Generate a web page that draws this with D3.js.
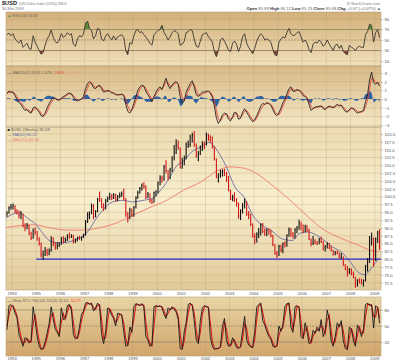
<!DOCTYPE html>
<html>
<head>
<meta charset="utf-8">
<script src="https://cdn.jsdelivr.net/npm/d3@7"></script>
<style>
  body { margin: 0; background: #fff; }
  svg text { font-family: "Liberation Sans", Arial, sans-serif; }
</style>
</head>
<body>
<div id="chart"></div>
<script>
// monthly bars, Oct 1993 .. Mar 2009
const closes = [
  94.6, 96.4, 96.6,
  97.0, 95.5, 95.3, 94.0, 94.5, 90.7, 90.3, 90.8, 88.3, 86.9, 89.2, 88.7,
  86.6, 85.0, 81.5, 81.6, 82.6, 82.1, 82.7, 86.6, 85.0, 83.9, 84.4, 84.8,
  86.8, 85.7, 86.2, 87.3, 87.2, 87.5, 85.5, 85.9, 86.8, 86.7, 86.9, 87.7,
  92.1, 94.1, 94.5, 96.9, 93.5, 95.3, 99.2, 98.9, 96.8, 96.6, 98.7, 99.6,
  100.0, 99.6, 100.6, 99.0, 100.1, 100.3, 100.9, 99.3, 94.3, 93.1, 95.8, 94.2,
  96.6, 99.6, 101.3, 102.6, 103.6, 103.2, 99.8, 100.8, 98.6, 98.1, 101.2, 101.6,
  104.4, 106.1, 105.6, 109.5, 108.4, 106.2, 108.6, 112.4, 114.2, 116.4, 115.8, 109.6,
  110.6, 112.3, 116.7, 116.7, 119.3, 119.5, 116.5, 113.0, 113.7, 115.5, 116.9, 116.7,
  119.7, 119.2, 118.8, 116.0, 112.0, 106.4, 106.8, 107.9, 108.0, 107.5, 106.6, 102.0,
  99.3, 99.6, 99.0, 98.0, 94.0, 95.4, 97.2, 98.2, 94.5, 94.1, 91.2, 87.4,
  87.3, 87.9, 88.6, 90.9, 88.9, 88.3, 89.3, 88.9, 87.5, 84.6, 81.8, 81.6,
  84.1, 83.0, 84.9, 84.8, 87.6, 89.3, 88.1, 87.5, 89.5, 89.8, 91.3, 90.8,
  89.0, 90.2, 89.3, 86.4, 85.0, 85.4, 85.2, 85.0, 86.2, 85.6, 83.2, 83.7,
  84.9, 83.6, 82.9, 81.6, 82.2, 82.1, 80.6, 80.9, 78.1, 76.8, 75.9, 76.7,
  75.3, 74.3, 71.9, 73.2, 72.8, 72.5, 73.1, 77.8, 79.1, 85.6, 86.5, 81.3,
  86.5, 88.3, 85.7
];
const highs = [
  95.4, 96.9, 97.6,
  97.8, 97.2, 96.0, 95.6, 95.4, 94.6, 91.5, 91.6, 91.0, 88.8, 89.8, 90.1,
  89.0, 87.0, 85.3, 82.8, 83.9, 83.3, 83.4, 87.3, 87.0, 85.5, 85.4, 85.4,
  87.1, 87.3, 86.9, 88.0, 88.5, 88.0, 87.8, 86.6, 87.2, 87.5, 87.3, 88.2,
  92.5, 95.0, 95.3, 97.8, 97.6, 95.7, 99.6, 101.6, 99.5, 97.9, 99.3, 100.0,
  101.2, 100.8, 101.1, 100.9, 100.5, 101.3, 101.6, 102.6, 99.5, 95.2, 96.4, 96.2,
  97.0, 100.1, 101.9, 103.1, 104.2, 104.6, 103.6, 101.5, 101.1, 99.2, 101.6, 102.0,
  104.8, 106.8, 106.7, 110.1, 111.6, 108.5, 109.2, 112.9, 116.5, 118.3, 117.9, 115.7,
  112.4, 113.1, 117.3, 117.9, 119.8, 120.4, 121.0, 117.0, 114.6, 116.3, 117.7, 117.6,
  120.5, 120.1, 119.6, 119.2, 116.2, 112.2, 107.5, 108.6, 108.7, 108.9, 107.9, 106.6,
  102.2, 100.6, 101.4, 99.5, 98.1, 96.0, 98.0, 99.4, 98.6, 95.4, 94.6, 91.4,
  88.3, 88.6, 90.0, 91.5, 91.6, 89.9, 89.8, 89.9, 89.4, 87.8, 84.8, 82.6,
  84.6, 84.6, 85.3, 85.7, 88.0, 90.1, 90.0, 88.7, 89.9, 90.6, 92.6, 92.0,
  91.1, 91.0, 90.9, 89.7, 86.6, 87.4, 86.4, 85.8, 86.8, 87.2, 85.9, 84.5,
  85.4, 85.2, 84.2, 83.0, 82.6, 82.8, 82.2, 82.0, 80.9, 78.5, 77.8, 77.2,
  77.0, 76.1, 74.4, 73.6, 73.9, 73.8, 73.5, 78.2, 80.4, 87.4, 88.5, 86.9,
  86.9, 89.1, 89.6
];
const lows = [
  93.6, 94.5, 95.8,
  95.9, 94.8, 94.3, 93.1, 92.8, 90.2, 88.9, 89.6, 87.7, 86.1, 86.5, 87.8,
  85.9, 84.4, 80.6, 79.8, 81.0, 81.1, 81.3, 82.4, 84.2, 83.0, 83.2, 83.9,
  84.6, 85.1, 85.3, 85.8, 86.5, 86.8, 85.0, 85.2, 85.7, 86.2, 85.9, 86.8,
  87.5, 91.6, 92.8, 94.4, 92.8, 93.4, 95.0, 98.3, 96.3, 95.4, 95.9, 98.2,
  98.9, 98.8, 99.2, 98.4, 98.5, 99.5, 99.9, 98.8, 93.6, 91.7, 92.8, 93.5,
  93.6, 96.2, 99.3, 100.9, 101.9, 102.4, 99.2, 99.5, 98.0, 97.6, 98.0, 100.1,
  101.1, 103.6, 104.4, 105.1, 107.5, 105.2, 105.6, 107.9, 111.5, 113.6, 115.0, 109.0,
  108.9, 110.0, 111.9, 115.5, 115.9, 117.3, 115.9, 112.4, 111.3, 113.3, 114.6, 115.2,
  116.3, 117.8, 117.2, 115.4, 111.5, 105.9, 104.5, 106.0, 106.4, 106.6, 104.7, 101.7,
  98.9, 98.5, 98.3, 96.8, 92.9, 92.5, 94.6, 96.2, 93.8, 92.8, 90.5, 86.9,
  84.8, 85.3, 86.8, 87.6, 88.3, 87.4, 87.3, 87.8, 87.0, 84.2, 81.4, 80.4,
  81.0, 82.2, 81.9, 83.7, 84.0, 87.2, 87.2, 86.6, 86.5, 88.3, 89.4, 89.2,
  88.3, 88.6, 88.7, 86.1, 84.1, 84.5, 84.8, 84.5, 84.8, 85.2, 82.9, 82.5,
  83.4, 83.2, 82.5, 81.2, 81.3, 81.6, 80.2, 80.1, 77.9, 76.5, 74.5, 75.3,
  74.9, 73.9, 70.9, 71.3, 72.2, 71.9, 71.3, 72.9, 76.1, 78.9, 84.4, 77.7,
  79.4, 85.2, 83.0
];

// moving averages, read at a few dates
const ma50Dates = ["1993-10","1994-04","1994-10","1995-01","1995-04","1995-08","1996-01","1996-08","1997-02","1997-08",
  "1998-03","1998-08","1999-01","1999-06","1999-11","2000-02","2000-06","2000-11","2001-02","2001-06","2001-11",
  "2002-03","2002-06","2002-11","2003-04","2003-08","2004-01","2004-05","2004-10","2005-03","2005-08","2005-12",
  "2006-04","2006-08","2007-01","2007-04","2007-09","2008-01","2008-05","2008-08","2008-11","2009-01","2009-03"];
const ma50 = [93.2, 94.8, 92.5, 91.0, 88.5, 85.8, 85.2, 86.1, 88.4, 94.1,
  98.3, 98.8, 98.3, 98.8, 99.5, 101.5, 104.8, 110.0, 111.3, 114.2, 116.0,
  117.3, 115.5, 110.0, 102.7, 100.0, 93.5, 91.0, 89.0, 86.5, 86.0, 88.3,
  88.7, 87.7, 85.5, 84.0, 82.0, 79.0, 75.8, 75.0, 76.8, 78.5, 80.2];
const ma200Dates = ["1993-10","1994-12","1995-08","1996-04","1997-01","1997-08","1998-05","1999-01","1999-09","2000-06",
  "2001-02","2001-11","2002-07","2003-01","2003-08","2004-02","2004-10","2005-07","2006-03","2006-12",
  "2007-08","2008-02","2008-05","2008-10","2009-03"];
const ma200 = [90.1, 91.0, 90.0, 89.3, 89.3, 90.0, 91.6, 94.1, 96.4, 98.9,
  102.0, 104.8, 108.3, 109.5, 109.1, 107.5, 103.7, 98.9, 94.1, 89.3,
  86.8, 85.2, 84.5, 83.0, 82.4];
const supportLevel = 80;
const supportFrom = "1995-01";

const rsi = [
  60, 63, 58,
  62, 52, 48, 44, 50, 36, 40, 44, 34, 32, 58, 46,
  38, 30, 23, 26, 40, 52, 58, 69, 55, 47, 44, 50,
  62, 55, 58, 64, 60, 62, 42, 38, 52, 58, 56, 62,
  82, 86, 72, 68, 52, 58, 72, 70, 52, 48, 58, 62,
  55, 50, 58, 50, 56, 58, 60, 55, 30, 22, 45, 42,
  58, 68, 70, 64, 66, 60, 56, 50, 44, 40, 60, 64,
  68, 70, 78, 64, 58, 50, 56, 64, 68, 66, 62, 40,
  42, 48, 64, 66, 70, 68, 52, 38, 36, 48, 60, 62,
  64, 56, 52, 46, 28, 18, 30, 50, 54, 48, 40, 30,
  28, 44, 48, 42, 28, 38, 56, 62, 44, 36, 30, 24,
  34, 48, 56, 62, 58, 50, 52, 50, 46, 32, 22, 20,
  46, 52, 56, 54, 64, 72, 62, 58, 60, 64, 66, 56,
  46, 50, 44, 32, 26, 42, 46, 44, 50, 46, 38, 42,
  50, 42, 36, 30, 40, 42, 34, 40, 28, 24, 22, 40,
  36, 34, 30, 36, 38, 36, 36, 60, 66, 80, 78, 46,
  64, 70, 54
];

const macd = [
  0.7, 0.9, 0.8,
  0.8, 0.4, 0.0, -0.4, -0.6, -1.0, -1.3, -1.2, -1.5, -1.6, -1.0, -0.9,
  -1.2, -1.5, -1.9, -2.0, -1.6, -1.0, -0.5, -0.1, 0.2, 0.1, -0.1, -0.1,
  0.1, 0.3, 0.4, 0.6, 0.7, 0.6, 0.2, -0.1, -0.2, -0.1, 0.0, 0.3,
  1.2, 1.8, 2.0, 1.8, 1.3, 1.2, 1.5, 1.6, 1.2, 0.8, 0.9, 1.0,
  0.9, 0.7, 0.7, 0.5, 0.5, 0.5, 0.6, 0.4, -0.6, -1.4, -1.6, -1.2,
  -0.5, 0.3, 1.0, 1.4, 1.6, 1.5, 0.9, 0.5, 0.1, -0.3, 0.3, 0.8,
  1.2, 1.4, 1.1, 1.8, 2.4, 1.6, 1.2, 1.6, 1.9, 2.0, 1.7, 0.3,
  -0.5, -0.2, 0.8, 1.3, 1.8, 2.1, 1.4, 0.5, 0.3, 0.6, 0.8, 0.8,
  0.9, 0.9, 0.7, 0.2, -0.8, -2.2, -2.8, -2.4, -1.8, -1.6, -1.7, -2.3,
  -2.5, -2.0, -1.5, -1.6, -2.3, -2.2, -1.5, -1.1, -1.5, -1.9, -2.3, -2.6,
  -2.4, -1.9, -1.4, -0.8, -0.5, -0.6, -0.4, -0.5, -0.7, -1.2, -1.7, -1.9,
  -1.6, -1.0, -0.4, 0.0, 0.6, 1.2, 1.4, 0.9, 0.9, 1.1, 1.0, 0.8,
  0.4, 0.3, 0.1, -0.6, -1.3, -1.1, -0.9, -0.9, -0.8, -0.8, -1.1, -1.2,
  -0.9, -0.8, -0.9, -1.0, -0.8, -0.6, -0.8, -0.7, -1.1, -1.4, -1.5, -1.2,
  -1.0, -1.1, -1.4, -1.6, -1.5, -1.4, -1.3, -0.3, 0.5, 2.2, 3.1, 1.9,
  1.7, 1.9, 1.48
];
const signal = [
  0.6, 0.8, 0.8,
  0.8, 0.6, 0.3, -0.1, -0.4, -0.7, -1.0, -1.2, -1.3, -1.5, -1.3, -1.1,
  -1.1, -1.3, -1.6, -1.9, -1.8, -1.4, -0.9, -0.4, -0.1, 0.1, 0.0, -0.1,
  0.0, 0.2, 0.3, 0.5, 0.6, 0.6, 0.4, 0.1, -0.1, -0.1, 0.0, 0.1,
  0.7, 1.3, 1.8, 1.9, 1.6, 1.3, 1.4, 1.5, 1.4, 1.0, 0.9, 0.9,
  0.9, 0.8, 0.7, 0.6, 0.5, 0.5, 0.5, 0.5, 0.0, -0.8, -1.3, -1.3,
  -0.9, -0.2, 0.5, 1.1, 1.4, 1.5, 1.2, 0.8, 0.4, 0.0, 0.1, 0.5,
  0.9, 1.2, 1.2, 1.5, 2.0, 1.9, 1.5, 1.5, 1.7, 1.9, 1.8, 1.1,
  0.2, -0.2, 0.3, 0.9, 1.4, 1.8, 1.7, 1.0, 0.5, 0.4, 0.6, 0.7,
  0.8, 0.9, 0.8, 0.5, -0.2, -1.3, -2.3, -2.5, -2.1, -1.8, -1.7, -2.0,
  -2.3, -2.2, -1.8, -1.6, -1.9, -2.1, -1.8, -1.4, -1.3, -1.6, -2.0, -2.4,
  -2.5, -2.2, -1.7, -1.2, -0.8, -0.6, -0.5, -0.5, -0.6, -0.9, -1.4, -1.7,
  -1.8, -1.4, -0.8, -0.3, 0.2, 0.8, 1.2, 1.1, 1.0, 1.0, 1.0, 0.9,
  0.6, 0.4, 0.2, -0.2, -0.8, -1.1, -1.0, -0.9, -0.9, -0.8, -0.9, -1.1,
  -1.0, -0.9, -0.9, -0.9, -0.9, -0.7, -0.7, -0.7, -0.9, -1.2, -1.4, -1.3,
  -1.1, -1.1, -1.2, -1.4, -1.5, -1.5, -1.4, -0.9, -0.1, 1.2, 2.4, 2.3,
  1.9, 1.9, 1.8
];

const stochK = [
  43, 88, 90,
  86, 74, 66, 34, 24, 12, 28, 26, 18, 22, 86, 60,
  30, 12, 6, 8, 20, 37, 55, 86, 62, 44, 38, 30,
  84, 62, 64, 88, 90, 80, 34, 26, 28, 48, 72, 78,
  93, 94, 90, 93, 78, 84, 93, 88, 34, 17, 40, 84,
  80, 70, 64, 50, 74, 72, 70, 40, 12, 14, 48, 38,
  86, 92, 90, 88, 92, 86, 30, 24, 12, 14, 86, 88,
  86, 88, 84, 72, 64, 84, 80, 86, 82, 76, 62, 8,
  6, 40, 56, 90, 93, 88, 60, 24, 17, 60, 84, 88,
  86, 84, 30, 12, 6, 8, 8, 12, 50, 64, 22, 12,
  14, 28, 20, 10, 8, 12, 40, 68, 24, 14, 11, 10,
  40, 86, 90, 93, 60, 52, 40, 30, 26, 12, 10, 14,
  50, 40, 52, 86, 92, 93, 48, 38, 86, 88, 84, 30,
  26, 56, 40, 17, 20, 42, 36, 48, 40, 62, 30, 42,
  80, 60, 22, 12, 30, 56, 48, 60, 22, 8, 6, 48,
  44, 22, 12, 52, 44, 30, 44, 90, 93, 88, 90, 46,
  88, 84, 55.6
];
const stochD = [
  50, 70, 86,
  88, 80, 70, 50, 30, 18, 20, 26, 22, 20, 54, 72,
  45, 21, 9, 7, 14, 28, 46, 70, 74, 53, 41, 34,
  57, 73, 63, 76, 89, 85, 57, 30, 27, 38, 60, 75,
  86, 93, 92, 91, 85, 81, 88, 90, 61, 26, 28, 62,
  82, 75, 67, 57, 62, 73, 71, 55, 26, 13, 31, 43,
  62, 89, 91, 89, 90, 89, 58, 27, 18, 13, 50, 87,
  87, 87, 86, 78, 68, 74, 82, 83, 84, 79, 69, 35,
  7, 23, 48, 73, 91, 90, 74, 42, 20, 38, 72, 86,
  87, 85, 57, 21, 9, 7, 8, 10, 31, 57, 43, 17,
  13, 21, 24, 15, 9, 10, 26, 54, 46, 19, 12, 10,
  25, 63, 88, 91, 76, 56, 46, 35, 28, 19, 11, 12,
  32, 45, 46, 69, 89, 92, 70, 43, 62, 87, 86, 57,
  28, 41, 48, 28, 18, 31, 39, 42, 44, 51, 46, 36,
  61, 70, 41, 17, 21, 43, 52, 54, 41, 15, 7, 27,
  46, 33, 17, 32, 48, 37, 37, 67, 91, 90, 89, 68,
  67, 86, 64.3
];

const years = d3.range(1994, 2010);
const priceTicks = d3.range(72.5, 120.01, 2.5);
const macdTicks = [-3, -2, -1, 0, 1, 2, 3];
const rsiTicks = [10, 30, 50, 70, 90];
const stochTicks = [20, 50, 80];

// ---------------------------------------------------------------
const W = 400, H = 362;
const L = 6, R = 381;
const svg = d3.select("#chart").append("svg").attr("width", W).attr("height", H);
const defs = svg.append("defs");

const parse = d3.timeParse("%Y-%m");
const months = closes.map((c, i) => new Date(1993, 9 + i, 15));
const x = d3.scaleTime().domain([new Date(1993, 9, 1), new Date(2009, 3, 6)]).range([L, R]);

const panels = {
  rsi:   { top: 12,  bottom: 66,  stops: [["0%", "#d3b07a"], ["100%", "#f0e0bb"]] },
  macd:  { top: 66,  bottom: 127, stops: [["0%", "#d8ba87"], ["100%", "#f4e8c6"]] },
  price: { top: 127, bottom: 290, stops: [["0%", "#eddcb2"], ["45%", "#f8efcf"], ["100%", "#e2c998"]] },
  stoch: { top: 297, bottom: 356, stops: [["0%", "#e9d5a6"], ["100%", "#d1a56b"]] }
};

const yR = d3.scaleLinear().domain([0, 100]).range([66.25, 13.75]);
const yM = d3.scaleLinear().domain([-3.2, 3.8]).range([127, 66]);
const yP = d3.scaleLinear().domain([70.16, 122.24]).range([290, 127]);
const yS = d3.scaleLinear().domain([0, 100]).range([352.7, 299.3]);

Object.entries(panels).forEach(([k, p]) => {
  const g = defs.append("linearGradient").attr("id", "bg-" + k)
    .attr("x1", 0).attr("y1", 0).attr("x2", 0).attr("y2", 1);
  p.stops.forEach(s => g.append("stop").attr("offset", s[0]).attr("stop-color", s[1]));
  defs.append("clipPath").attr("id", "clip-" + k)
    .append("rect").attr("x", L).attr("y", p.top).attr("width", R - L).attr("height", p.bottom - p.top);
  svg.append("rect").attr("x", L).attr("y", p.top).attr("width", R - L).attr("height", p.bottom - p.top)
    .attr("fill", `url(#bg-${k})`);
  // year grid
  svg.append("g").selectAll("line").data(years).join("line")
    .attr("x1", d => x(new Date(d, 0, 1))).attr("x2", d => x(new Date(d, 0, 1)))
    .attr("y1", p.top).attr("y2", p.bottom)
    .attr("stroke", "#b39a6c").attr("stroke-opacity", 0.45).attr("stroke-width", 0.6);
});

function hgrid(scale, vals, color, opacity, dash) {
  svg.append("g").selectAll("line").data(vals).join("line")
    .attr("x1", L).attr("x2", R).attr("y1", d => scale(d)).attr("y2", d => scale(d))
    .attr("stroke", color).attr("stroke-opacity", opacity).attr("stroke-width", 0.7)
    .attr("stroke-dasharray", dash || null);
}
hgrid(yP, priceTicks, "#b39a6c", 0.4);
hgrid(yM, macdTicks, "#b39a6c", 0.4);
hgrid(yR, [90, 10], "#b39a6c", 0.4);
hgrid(yR, [70, 30], "#8c7c66", 0.9);
hgrid(yR, [50], "#8c7c66", 0.9, "2,1");
hgrid(yS, [80, 20], "#8c7c66", 0.9);
hgrid(yS, [50], "#8c7c66", 0.9, "2,1");

const xi = (d, i) => x(months[i]);

// ---- RSI
const gR = svg.append("g").attr("clip-path", "url(#clip-rsi)");
defs.append("clipPath").attr("id", "rsi-hi").append("rect")
  .attr("x", L).attr("y", 0).attr("width", R - L).attr("height", yR(70));
defs.append("clipPath").attr("id", "rsi-lo").append("rect")
  .attr("x", L).attr("y", yR(30)).attr("width", R - L).attr("height", 100);
gR.append("path").datum(rsi).attr("clip-path", "url(#rsi-hi)")
  .attr("d", d3.area().x(xi).y0(yR(70)).y1(d => yR(d)))
  .attr("fill", "#5d8e35");
gR.append("path").datum(rsi).attr("clip-path", "url(#rsi-lo)")
  .attr("d", d3.area().x(xi).y0(yR(30)).y1(d => yR(d)))
  .attr("fill", "#8a4634");
gR.append("path").datum(rsi)
  .attr("d", d3.line().x(xi).y(d => yR(d)))
  .attr("fill", "none").attr("stroke", "#3a3630").attr("stroke-width", 0.9);

// ---- MACD
const gM = svg.append("g").attr("clip-path", "url(#clip-macd)");
const hist = macd.map((m, i) => m - signal[i]);
gM.append("path").datum(hist)
  .attr("d", d3.area().x(xi).y0(yM(0)).y1(d => yM(d)))
  .attr("fill", "#2f62a3");
gM.append("path").datum(signal)
  .attr("d", d3.line().x(xi).y(d => yM(d)))
  .attr("fill", "none").attr("stroke", "#e8453a").attr("stroke-width", 0.9);
gM.append("path").datum(macd)
  .attr("d", d3.line().x(xi).y(d => yM(d)))
  .attr("fill", "none").attr("stroke", "#222").attr("stroke-width", 0.9);

// ---- Price
const gP = svg.append("g").attr("clip-path", "url(#clip-price)");
gP.append("path").datum(ma200.map((v, i) => [parse(ma200Dates[i]), v]))
  .attr("d", d3.line().x(d => x(d[0])).y(d => yP(d[1])).curve(d3.curveMonotoneX))
  .attr("fill", "none").attr("stroke", "#f07a6a").attr("stroke-width", 0.9);
gP.append("path").datum(ma50.map((v, i) => [parse(ma50Dates[i]), v]))
  .attr("d", d3.line().x(d => x(d[0])).y(d => yP(d[1])).curve(d3.curveMonotoneX))
  .attr("fill", "none").attr("stroke", "#6a6aa6").attr("stroke-width", 0.9);
gP.append("line")
  .attr("x1", x(parse(supportFrom))).attr("x2", R)
  .attr("y1", yP(supportLevel)).attr("y2", yP(supportLevel))
  .attr("stroke", "#2a2ad0").attr("stroke-width", 1.3);

const bars = closes.map((c, i) => ({ date: months[i], o: i ? closes[i - 1] : lows[i], c: c, h: highs[i], l: lows[i] }));
const bar = gP.append("g").selectAll("g").data(bars).join("g")
  .attr("stroke", d => d.c >= d.o ? "#111" : "#d0161a");
bar.append("line")
  .attr("x1", d => x(d.date)).attr("x2", d => x(d.date))
  .attr("y1", d => yP(Math.max(d.h, d.o, d.c))).attr("y2", d => yP(Math.min(d.l, d.o, d.c)))
  .attr("stroke-width", 1.1);
bar.append("line")
  .attr("x1", d => x(d.date)).attr("x2", d => x(d.date) + 0.8)
  .attr("y1", d => yP(d.c)).attr("y2", d => yP(d.c))
  .attr("stroke-width", 0.7);

// ---- Slow stochastic
const gS = svg.append("g").attr("clip-path", "url(#clip-stoch)");
gS.append("path").datum(stochD)
  .attr("d", d3.line().x(xi).y(d => yS(d)))
  .attr("fill", "none").attr("stroke", "#d8201c").attr("stroke-width", 1.1);
gS.append("path").datum(stochK)
  .attr("d", d3.line().x(xi).y(d => yS(d)))
  .attr("fill", "none").attr("stroke", "#1a1a1a").attr("stroke-width", 0.9);

// ---- frames
Object.values(panels).forEach(p => {
  svg.append("rect").attr("x", L).attr("y", p.top).attr("width", R - L).attr("height", p.bottom - p.top)
    .attr("fill", "none").attr("stroke", "#b8a07a").attr("stroke-width", 0.6);
});

// ---- axes
function rightAxis(scale, vals, fmt) {
  const g = svg.append("g").attr("transform", `translate(${R},0)`)
    .call(d3.axisRight(scale).tickValues(vals).tickSize(2).tickPadding(1.5).tickFormat(fmt));
  g.select(".domain").remove();
  g.selectAll("line").attr("stroke", "#888").attr("stroke-width", 0.5);
  g.selectAll("text").attr("font-size", 4.2).attr("fill", "#555")
    .attr("font-family", "'Liberation Sans', Arial, sans-serif");
}
rightAxis(yR, rsiTicks, d3.format("d"));
rightAxis(yM, macdTicks, d3.format("d"));
rightAxis(yP, priceTicks, d3.format(".1f"));
rightAxis(yS, stochTicks, d3.format("d"));

[294.5, 360].forEach(yy => {
  svg.append("g").selectAll("text").data(years).join("text")
    .attr("x", d => x(new Date(d, 0, 1))).attr("y", yy)
    .attr("text-anchor", "middle").attr("font-size", 4.2).attr("fill", "#555")
    .text(d => d);
});

// ---- header + legends
function label(xx, yy, parts, size) {
  const t = svg.append("text").attr("x", xx).attr("y", yy).attr("font-size", size || 4.2);
  parts.forEach(p => t.append("tspan").text(p[0]).attr("fill", p[1] || "#555")
    .attr("font-weight", p[2] ? "bold" : null));
  return t;
}
label(2, 5.2, [["$USD", "#222", true]], 5.6);
label(19, 5.2, [["(US Dollar Index (DX0)) INDX", "#777"]], 3.6);
label(2, 10, [["30-Mar-2009", "#777"]], 3.8);
label(380, 4.8, [["@ StockCharts.com", "#777"]], 3.8).attr("text-anchor", "end");
label(381, 10.4, [
  ["Open ", "#333", true], ["85.68 ", "#666"],
  ["High ", "#333", true], ["86.12 ", "#666"],
  ["Low ", "#333", true], ["85.23 ", "#666"],
  ["Close ", "#333", true], ["85.68 ", "#666"],
  ["Chg ", "#333", true], ["+0.07 (+0.07%) \u25B2", "#666"]
], 4.2).attr("text-anchor", "end");

label(7.5, 16.5, [["\u25B2", "#4f8a2e"], [" RSI(14) 53.63", "#6a6256"]], 4);
label(7.5, 74, [["\u2014 ", "#333"], ["MACD(12,26,9) 1.478, ", "#6a6256"], ["1.803, ", "#e8453a"], ["-0.325", "#e89a80"]], 4);
label(7.5, 131, [["\u25A0 ", "#222"], ["$USD (Weekly) 85.68", "#6a6256"]], 4);
label(7.5, 136, [["\u2014 ", "#6a6aa6"], ["MA(50) 80.22", "#6a6aa6"]], 4);
label(7.5, 141, [["\u2014 ", "#f07a6a"], ["MA(200) 82.35", "#f07a6a"]], 4);
label(7.5, 302, [["\u2014 ", "#333"], ["Slow STO %K(14) %D(3) 55.62, ", "#6a6256"], ["64.29", "#e8453a"]], 4);
</script>
</body>
</html>
